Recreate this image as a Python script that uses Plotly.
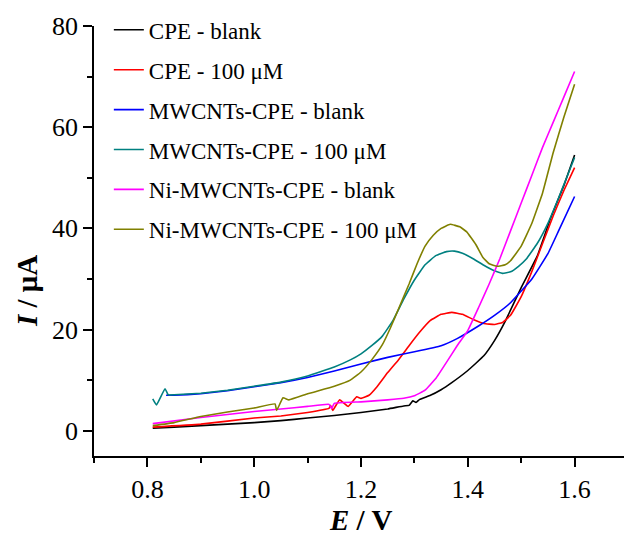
import plotly.graph_objects as go

# CPE - blank
E_cpe_blank = [0.81, 0.85, 0.9, 0.95, 1.0, 1.05, 1.1, 1.15, 1.2, 1.25, 1.28, 1.29, 1.297, 1.303, 1.31,
               1.33, 1.35, 1.37, 1.4, 1.43, 1.45, 1.47, 1.5, 1.53, 1.555, 1.58, 1.6]
I_cpe_blank = [0.5, 0.7, 1.0, 1.3, 1.6, 2.0, 2.5, 3.0, 3.6, 4.3, 4.9, 5.0, 5.9, 5.6, 6.2,
               7.0, 8.1, 9.5, 11.9, 14.8, 17.8, 21.6, 28.3, 34.5, 42.0, 48.5, 54.5]

# CPE - 100 uM
E_cpe_100 = [0.81, 0.9, 1.0, 1.05, 1.1, 1.14, 1.143, 1.147, 1.16, 1.176, 1.192, 1.2, 1.215, 1.23,
             1.25, 1.27, 1.29, 1.31, 1.33, 1.35, 1.37, 1.39, 1.41, 1.43, 1.45, 1.465, 1.48, 1.5,
             1.52, 1.54, 1.56, 1.58, 1.6]
I_cpe_100 = [0.7, 1.3, 2.5, 2.9, 3.6, 4.4, 5.0, 4.0, 6.1, 4.8, 6.7, 6.4, 7.0, 8.7,
             11.5, 14.0, 16.8, 19.5, 21.8, 23.0, 23.4, 23.0, 22.0, 21.2, 21.0, 21.4, 22.8, 26.5,
             31.5, 37.0, 42.5, 47.5, 52.0]

# MWCNTs-CPE - blank
E_mw_blank = [0.835, 0.85, 0.9, 0.95, 1.0, 1.05, 1.1, 1.15, 1.2, 1.25, 1.3, 1.35, 1.38, 1.42,
              1.45, 1.48, 1.52, 1.55, 1.57, 1.6]
I_mw_blank = [7.0, 7.0, 7.3, 7.9, 8.7, 9.5, 10.5, 11.8, 13.2, 14.5, 15.6, 16.8, 18.2, 20.7,
              22.8, 25.3, 30.0, 35.0, 39.5, 46.3]

# MWCNTs-CPE - 100 uM
E_mw_100 = [0.81, 0.817, 0.833, 0.839, 0.85, 0.9, 0.95, 1.0, 1.05, 1.1, 1.15, 1.18, 1.2, 1.22,
            1.24, 1.26, 1.28, 1.3, 1.32, 1.34, 1.36, 1.375, 1.39, 1.41, 1.43, 1.45, 1.465, 1.48,
            1.495, 1.51, 1.53, 1.55, 1.57, 1.585, 1.6]
I_mw_100 = [6.3, 5.1, 8.3, 7.1, 7.1, 7.4, 8.0, 8.8, 9.6, 10.8, 12.6, 14.0, 15.2, 16.8,
            18.7, 21.8, 26.0, 29.8, 32.8, 34.6, 35.4, 35.5, 35.1, 34.0, 32.7, 31.6, 31.1, 31.4,
            32.5, 34.0, 37.0, 41.0, 46.0, 50.0, 54.0]

# Ni-MWCNTs-CPE - blank
E_ni_blank = [0.81, 0.9, 1.0, 1.05, 1.1, 1.14, 1.145, 1.15, 1.2, 1.25, 1.28, 1.3, 1.32, 1.34,
              1.36, 1.38, 1.4, 1.42, 1.44, 1.46, 1.48, 1.5, 1.52, 1.54, 1.56, 1.58, 1.6]
I_ni_blank = [1.4, 2.6, 3.8, 4.3, 4.8, 5.2, 4.4, 5.4, 5.7, 6.1, 6.4, 6.9, 8.0, 10.3,
              13.5, 16.8, 19.8, 24.3, 29.0, 34.0, 39.5, 45.0, 50.5, 56.0, 61.0, 66.0, 71.0]

# Ni-MWCNTs-CPE - 100 uM
E_ni_100 = [0.81, 0.85, 0.9, 0.95, 1.0, 1.039, 1.042, 1.054, 1.065, 1.1, 1.15, 1.18, 1.2, 1.22,
            1.24, 1.255, 1.27, 1.29, 1.305, 1.32, 1.335, 1.35, 1.367, 1.385, 1.398, 1.415, 1.428,
            1.44, 1.455, 1.47, 1.48, 1.5, 1.52, 1.54, 1.56, 1.58, 1.6]
I_ni_100 = [1.0, 1.6, 2.8, 3.7, 4.5, 5.3, 4.0, 6.5, 6.1, 7.3, 8.8, 10.0, 11.6, 14.0,
            17.0, 20.3, 24.0, 29.0, 33.0, 36.5, 38.6, 40.0, 40.8, 40.3, 39.3, 36.8, 34.3,
            33.0, 32.5, 32.8, 33.6, 36.5, 41.0, 47.0, 55.0, 62.0, 68.5]

names = ["CPE - blank", "CPE - 100 μM", "MWCNTs-CPE - blank", "MWCNTs-CPE - 100 μM",
         "Ni-MWCNTs-CPE - blank", "Ni-MWCNTs-CPE - 100 μM"]
colors = ["#000000", "#ff0000", "#0000ff", "#008080", "#ff00ff", "#808000"]
series = [(E_cpe_blank, I_cpe_blank), (E_cpe_100, I_cpe_100), (E_mw_blank, I_mw_blank),
          (E_mw_100, I_mw_100), (E_ni_blank, I_ni_blank), (E_ni_100, I_ni_100)]

FONT = "Liberation Serif"

fig = go.Figure()
for i, ((ex, iy), nm, c) in enumerate(zip(series, names, colors)):
    fig.add_trace(go.Scatter(x=ex, y=iy, mode="lines", name=nm, legendgroup=f"g{i}",
                             line=dict(color=c, width=1.6, shape="spline", smoothing=0.3)))

axis_common = dict(showline=True, linecolor="black", linewidth=1.5, showgrid=False, zeroline=False,
                   ticks="outside", ticklen=9, tickwidth=1.5, tickcolor="black",
                   tickfont=dict(family=FONT, size=26, color="black"), mirror=False)

fig.update_xaxes(range=[0.7, 1.6925], dtick=0.2, tick0=0.8, tickformat=".1f",
                 minor=dict(dtick=0.1, tick0=0.7, ticklen=5, ticks="outside", tickcolor="black", tickwidth=1.5),
                 **axis_common)
fig.update_yaxes(range=[-5, 80], dtick=20, tick0=0,
                 minor=dict(dtick=10, tick0=0, ticklen=5, ticks="outside", tickcolor="black", tickwidth=1.5),
                 **axis_common)

fig.add_annotation(text="<b><i>E</i> / V</b>", xref="paper", yref="paper", x=0.502, y=-0.149,
                   showarrow=False, font=dict(family=FONT, size=29, color="black"),
                   xanchor="center", yanchor="middle")
fig.add_annotation(text="<b><i>I</i> / μA</b>", xref="paper", yref="paper", x=-0.126, y=0.384,
                   showarrow=False, textangle=-90, font=dict(family=FONT, size=29, color="black"),
                   xanchor="center", yanchor="middle")

fig.update_layout(
    width=624, height=535,
    margin=dict(l=94, r=0, t=26, b=79),
    paper_bgcolor="white", plot_bgcolor="white",
    showlegend=True,
    legend=dict(x=0.028, y=1.041, xanchor="left", yanchor="top", bgcolor="rgba(0,0,0,0)",
                font=dict(family=FONT, size=23, color="black"), tracegroupgap=7,
                borderwidth=0),
)

fig.write_html("out.html")
